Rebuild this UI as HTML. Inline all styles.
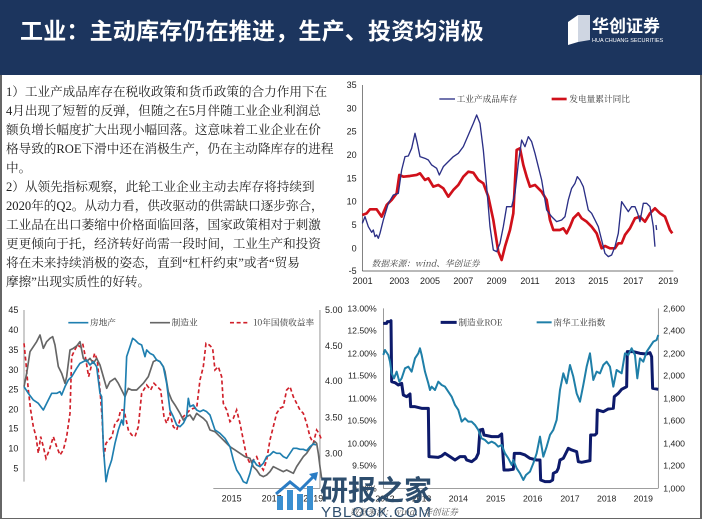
<!DOCTYPE html>
<html><head><meta charset="utf-8">
<style>
html,body{margin:0;padding:0;background:#fff;}
body{width:702px;height:527px;position:relative;overflow:hidden;font-family:"Liberation Sans","Noto Sans CJK SC",sans-serif;}
#hdr{position:absolute;left:0;top:0;width:702px;height:75px;background:#1c355e;}
#title{position:absolute;left:20px;top:12px;color:#fff;font-size:23px;font-weight:bold;font-family:"Noto Sans CJK SC",sans-serif;letter-spacing:0.2px;}
#frame{position:absolute;left:0;top:75px;width:698px;height:443px;border-left:2px solid #666;border-right:2px solid #666;border-bottom:1px solid #666;}
#txt{position:absolute;left:6px;top:83px;width:335px;font-family:"Liberation Serif","Noto Serif CJK SC",serif;font-size:12.6px;line-height:19px;color:#222;white-space:nowrap;}
svg{position:absolute;left:0;top:0;}
</style></head><body>
<div id="hdr"></div>
<div id="title">工业：主动库存仍在推进，生产、投资均消极</div>
<div id="frame"></div>
<div id="txt">1）工业产成品库存在税收政策和货币政策的合力作用下在<br>4月出现了短暂的反弹，但随之在5月伴随工业企业利润总<br>额负增长幅度扩大出现小幅回落。这意味着工业企业在价<br>格导致的ROE下滑中还在消极生产，仍在主动降库存的进程<br>中。<br>2）从领先指标观察，此轮工业企业主动去库存将持续到<br>2020年的Q2。从动力看，供改驱动的供需缺口逐步弥合，<br>工业品在出口萎缩中价格面临回落，国家政策相对于刺激<br>更更倾向于托，经济转好尚需一段时间，工业生产和投资<br>将在未来持续消极的姿态，直到“杠杆约束”或者“贸易<br>摩擦”出现实质性的好转。</div>
<svg width="702" height="527" viewBox="0 0 702 527">
<g>
<polygon points="568,22 578,15 578,42 568,45" fill="#fff"/>
<polygon points="578,15 590,15 590,40 578,42" fill="#cfd6e2"/>
<text x="592" y="32" fill="#fff" font-size="17" font-weight="bold" font-family="Noto Sans CJK SC,sans-serif">华创证券</text>
<text x="592" y="42" fill="#fff" font-size="5.5" font-family="Liberation Sans,sans-serif">HUA CHUANG SECURITIES</text>
</g>

<g transform="translate(340,70) scale(0.3333)">
<g stroke="#444" stroke-width="2" fill="none">
<line x1="67" y1="45" x2="67" y2="603"/><line x1="67" y1="603" x2="1000" y2="603"/>
</g>
<g font-family="Liberation Sans,sans-serif" font-size="27" fill="#222" text-anchor="end">
<text x="50" y="54">35</text><text x="50" y="124">30</text><text x="50" y="194">25</text><text x="50" y="264">20</text><text x="50" y="334">15</text><text x="50" y="404">10</text><text x="50" y="474">5</text><text x="50" y="544">0</text><text x="50" y="612">-5</text>
</g>
<g font-family="Liberation Sans,sans-serif" font-size="27" fill="#222" text-anchor="middle">
<text x="68" y="642">2001</text><text x="178" y="642">2003</text><text x="270" y="642">2005</text><text x="370" y="642">2007</text><text x="470" y="642">2009</text><text x="570" y="642">2011</text><text x="675" y="642">2013</text><text x="775" y="642">2015</text><text x="880" y="642">2017</text><text x="985" y="642">2019</text>
</g>
<line x1="298" y1="87" x2="345" y2="87" stroke="#2b2f86" stroke-width="4"/>
<text x="350" y="96" font-size="26" fill="#333" font-family="Noto Serif CJK SC,serif">工业产成品库存</text>
<line x1="635" y1="87" x2="680" y2="87" stroke="#d0101a" stroke-width="8"/>
<text x="688" y="96" font-size="26" fill="#333" font-family="Noto Serif CJK SC,serif">发电量累计同比</text>
<text x="95" y="590" font-size="26" fill="#444" font-style="italic" font-family="Noto Serif CJK SC,serif">数据来源：wind、华创证券</text>
<polyline fill="none" stroke="#d0101a" stroke-width="8" stroke-linejoin="round" points="67,435 80,430 90,418 110,418 125,440 140,405 155,390 170,370 178,315 190,320 210,318 230,315 240,310 255,330 265,325 280,350 295,345 310,355 325,380 340,360 355,345 370,320 385,305 400,308 415,330 430,340 445,380 460,450 475,545 485,570 495,530 510,480 520,430 530,240 540,235 550,285 560,320 570,350 585,345 595,355 605,365 620,390 630,450 640,480 660,480 670,475 680,490 690,470 700,445 715,430 725,445 740,455 755,470 770,490 785,535 795,528 810,535 825,535 835,520 845,520 855,495 870,475 885,445 900,440 915,455 930,430 945,415 960,430 975,440 990,480 997,490"/>
<polyline fill="none" stroke="#2b2f86" stroke-width="4" stroke-linejoin="round" points="67,460 75,440 85,470 95,487 100,480 105,500 110,495 115,505 120,490 130,450 145,400 160,375 175,370 185,300 195,260 205,258 215,235 225,190 232,220 240,260 255,265 265,270 275,285 290,295 298,315 310,290 325,275 340,260 355,250 370,230 385,195 400,160 410,135 420,160 430,240 440,350 450,470 460,540 470,545 480,520 490,470 500,410 515,410 525,370 535,280 545,210 555,230 565,200 575,215 585,250 595,290 605,330 620,420 635,440 650,455 665,450 675,440 685,390 695,355 705,340 712,320 720,330 730,350 745,420 755,430 765,450 775,470 785,510 795,550 805,560 815,555 825,530 835,490 845,395 855,410 865,425 875,410 885,410 893,430 900,455 910,400 920,400 930,410 940,470 945,530"/>
<polyline fill="none" stroke="#2b2f86" stroke-width="4" points="948,465 950,480"/>
</g>

<g transform="translate(0,290) scale(0.3333)">
<g stroke="#666" stroke-width="2" fill="none">
<line x1="72" y1="60" x2="72" y2="575"/><line x1="960" y1="60" x2="960" y2="595"/><line x1="640" y1="595" x2="960" y2="595"/>
</g>
<g font-family="Liberation Sans,sans-serif" font-size="27" fill="#222" text-anchor="end">
<text x="55" y="69">45</text><text x="55" y="129">40</text><text x="55" y="189">35</text><text x="55" y="249">30</text><text x="55" y="307">25</text><text x="55" y="367">20</text><text x="55" y="425">15</text><text x="55" y="485">10</text><text x="55" y="544">5</text>
</g>
<g font-family="Liberation Sans,sans-serif" font-size="27" fill="#222">
<text x="975" y="69">5.00</text><text x="975" y="177">4.50</text><text x="975" y="282">4.00</text><text x="975" y="391">3.50</text><text x="975" y="499">3.00</text>
</g>
<g font-family="Liberation Sans,sans-serif" font-size="27" fill="#222" text-anchor="middle">
<text x="695" y="634">2015</text><text x="815" y="634">2017</text><text x="940" y="634">2019</text>
</g>
<line x1="205" y1="98" x2="265" y2="98" stroke="#1f7fb0" stroke-width="5"/>
<text x="270" y="107" font-size="26" fill="#333" font-family="Noto Serif CJK SC,serif">房地产</text>
<line x1="450" y1="98" x2="510" y2="98" stroke="#666" stroke-width="5"/>
<text x="515" y="107" font-size="26" fill="#333" font-family="Noto Serif CJK SC,serif">制造业</text>
<line x1="690" y1="98" x2="750" y2="98" stroke="#d0202a" stroke-width="5" stroke-dasharray="12,8"/>
<text x="760" y="107" font-size="26" fill="#333" font-family="Noto Serif CJK SC,serif">10年国债收益率</text>
<polyline fill="none" stroke="#d0202a" stroke-width="5" stroke-dasharray="12,8" points="72,160 78,220 85,300 92,360 100,410 108,440 115,490 122,440 130,470 138,505 148,480 160,440 170,470 180,495 190,480 200,440 210,370 215,200 222,185 232,165 240,170 248,160 256,200 266,260 276,220 284,190 292,210 300,300 306,380 312,500 318,460 326,450 336,440 345,400 355,390 362,360 372,360 385,420 395,435 405,440 415,410 425,310 440,285 452,300 462,280 472,290 482,300 492,380 500,400 510,370 520,410 530,420 540,390 550,380 560,370 570,360 580,355 590,355 600,270 610,230 618,160 628,165 638,175 645,240 655,230 665,260 670,340 680,360 690,395 700,385 710,360 720,400 730,450 740,500 750,520 760,510 770,500 780,525 790,540 800,510 810,450 820,410 830,370 840,355 850,350 860,300 870,290 880,320 890,340 900,360 910,370 920,400 930,440 940,460 950,420 957,430 965,450"/>
<polyline fill="none" stroke="#666" stroke-width="5" stroke-linejoin="round" points="72,290 80,250 90,185 100,170 110,155 120,135 130,175 140,155 150,145 158,140 165,165 175,230 185,250 195,280 200,260 210,180 220,175 230,168 240,155 250,205 260,215 270,205 280,220 290,205 300,225 310,260 320,295 330,275 345,265 355,280 365,300 375,320 385,295 395,300 410,300 420,290 430,280 445,260 460,215 470,210 480,215 490,230 495,245 505,305 515,330 525,345 540,370 550,390 560,380 570,375 580,390 590,370 600,378 610,385 620,395 630,420 645,425 660,440 675,455 690,470 705,480 720,490 735,500 750,505 760,530 770,540 780,555 790,560 800,555 810,545 820,530 830,535 840,540 850,545 860,540 870,545 880,550 890,530 900,515 910,500 920,490 930,475 940,460 945,455 950,460 955,490 960,530 965,565"/>
<polyline fill="none" stroke="#1f7fb0" stroke-width="5" stroke-linejoin="round" points="72,290 85,310 100,330 115,340 130,360 145,330 155,310 170,310 180,305 185,315 195,290 205,270 215,260 230,235 240,220 250,215 260,210 270,225 280,215 290,230 300,310 305,320 310,470 318,575 325,540 335,510 345,460 355,420 365,390 370,405 375,320 380,200 390,170 398,145 405,150 415,160 425,165 435,200 440,180 450,190 460,195 470,210 480,215 490,230 500,280 510,360 520,380 530,405 540,410 550,400 560,380 565,325 570,350 580,345 590,360 600,365 610,360 620,365 630,375 645,420 660,430 675,445 690,470 700,510 710,540 720,555 730,575 740,580 750,550 760,510 770,525 780,530 790,520 800,500 810,495 820,485 830,490 840,490 850,500 860,505 870,490 880,475 890,475 900,478 910,478 920,482 930,470 940,462 948,465"/>
</g>

<g transform="translate(350,290) scale(0.3333)">
<g stroke="#666" stroke-width="2" fill="none">
<line x1="100" y1="55" x2="100" y2="595"/><line x1="925" y1="55" x2="925" y2="595"/><line x1="100" y1="595" x2="925" y2="595"/>
</g>
<g font-family="Liberation Sans,sans-serif" font-size="26" fill="#222" text-anchor="end">
<text x="80" y="64">13.00%</text><text x="80" y="131">12.50%</text><text x="80" y="199">12.00%</text><text x="80" y="266">11.50%</text><text x="80" y="334">11.00%</text><text x="80" y="401">10.50%</text><text x="80" y="469">10.00%</text><text x="80" y="536">9.50%</text><text x="80" y="604">9.00%</text>
</g>
<g font-family="Liberation Sans,sans-serif" font-size="26" fill="#222">
<text x="940" y="64">2,600</text><text x="940" y="131">2,400</text><text x="940" y="199">2,200</text><text x="940" y="266">2,000</text><text x="940" y="334">1,800</text><text x="940" y="401">1,600</text><text x="940" y="469">1,400</text><text x="940" y="536">1,200</text><text x="940" y="604">1,000</text>
</g>
<g font-family="Liberation Sans,sans-serif" font-size="26" fill="#222" text-anchor="middle">
<text x="105" y="634">2012</text><text x="215" y="634">2013</text><text x="325" y="634">2014</text><text x="437" y="634">2015</text><text x="548" y="634">2016</text><text x="660" y="634">2017</text><text x="770" y="634">2018</text><text x="880" y="634">2019</text>
</g>
<line x1="272" y1="97" x2="320" y2="97" stroke="#0d1a6b" stroke-width="9"/>
<text x="325" y="106" font-size="26" fill="#333" font-family="Noto Serif CJK SC,serif">制造业ROE</text>
<line x1="560" y1="97" x2="605" y2="97" stroke="#1f7fa8" stroke-width="6"/>
<text x="610" y="106" font-size="26" fill="#333" font-family="Noto Serif CJK SC,serif">南华工业指数</text>
<text x="0" y="675" font-size="26" fill="#555" font-style="italic" font-family="Noto Serif CJK SC,serif">数据来源：wind、华创证券</text>
<polyline fill="none" stroke="#0d1a6b" stroke-width="9" stroke-linejoin="round" points="100,100 110,100 112,95 120,95 123,92 125,275 135,278 145,285 155,280 160,315 170,320 180,312 182,350 195,350 215,355 235,355 237,500 265,502 275,498 285,490 300,500 315,510 330,500 345,500 350,510 365,515 378,505 385,490 390,420 398,418 402,435 425,440 445,440 455,432 462,540 475,540 490,538 493,490 510,490 525,495 540,505 560,510 570,510 572,570 585,575 600,575 608,570 610,550 620,545 625,535 630,510 640,505 645,495 655,475 665,480 680,485 685,515 695,517 720,512 722,435 735,435 740,430 742,360 760,365 775,357 790,355 793,320 805,310 815,298 830,290 832,185 850,185 870,190 890,192 900,188 905,200 908,295 925,298"/>
<polyline fill="none" stroke="#1f7fa8" stroke-width="6" stroke-linejoin="round" points="100,195 105,180 115,195 120,215 125,250 132,265 140,245 148,275 155,265 165,235 175,230 185,245 195,205 205,190 210,175 215,195 225,245 235,280 240,300 245,290 255,300 265,275 275,285 285,290 295,305 305,320 315,345 325,360 335,395 345,385 355,395 365,395 375,405 385,420 395,445 405,450 415,460 425,455 435,460 445,470 455,465 465,490 475,505 485,525 490,510 500,535 510,550 520,570 528,555 540,545 550,520 560,490 570,440 580,500 590,470 600,435 610,420 620,390 630,300 640,250 650,280 660,225 670,260 680,310 690,335 700,285 710,230 720,190 730,270 740,245 750,250 760,225 770,215 780,230 790,290 800,240 815,250 825,190 835,195 845,175 855,195 862,265 870,205 880,215 890,185 900,170 910,155 920,150 925,135"/>
</g>

<g>
<rect x="277" y="496" width="6" height="14" fill="#3a8fd0"/>
<rect x="287" y="490" width="6" height="20" fill="#3a8fd0"/>
<rect x="297" y="494" width="6" height="16" fill="#3a8fd0"/>
<rect x="307" y="486" width="6" height="24" fill="#3a8fd0"/>
<polyline points="276,494 290,482 300,490 314,476" fill="none" stroke="#2a7cc4" stroke-width="3"/>
<polygon points="309,474 318,472 316,481" fill="#2a7cc4"/>
<text x="320" y="500" font-size="28" font-weight="bold" fill="#2d4d6d" font-family="Noto Sans CJK SC,sans-serif">研报之家</text>
<text x="321" y="517" font-size="15" fill="#2d4d6d" font-family="Liberation Sans,sans-serif" letter-spacing="1">YBLOOK.COM</text>
</g>
</svg>
</body></html>
